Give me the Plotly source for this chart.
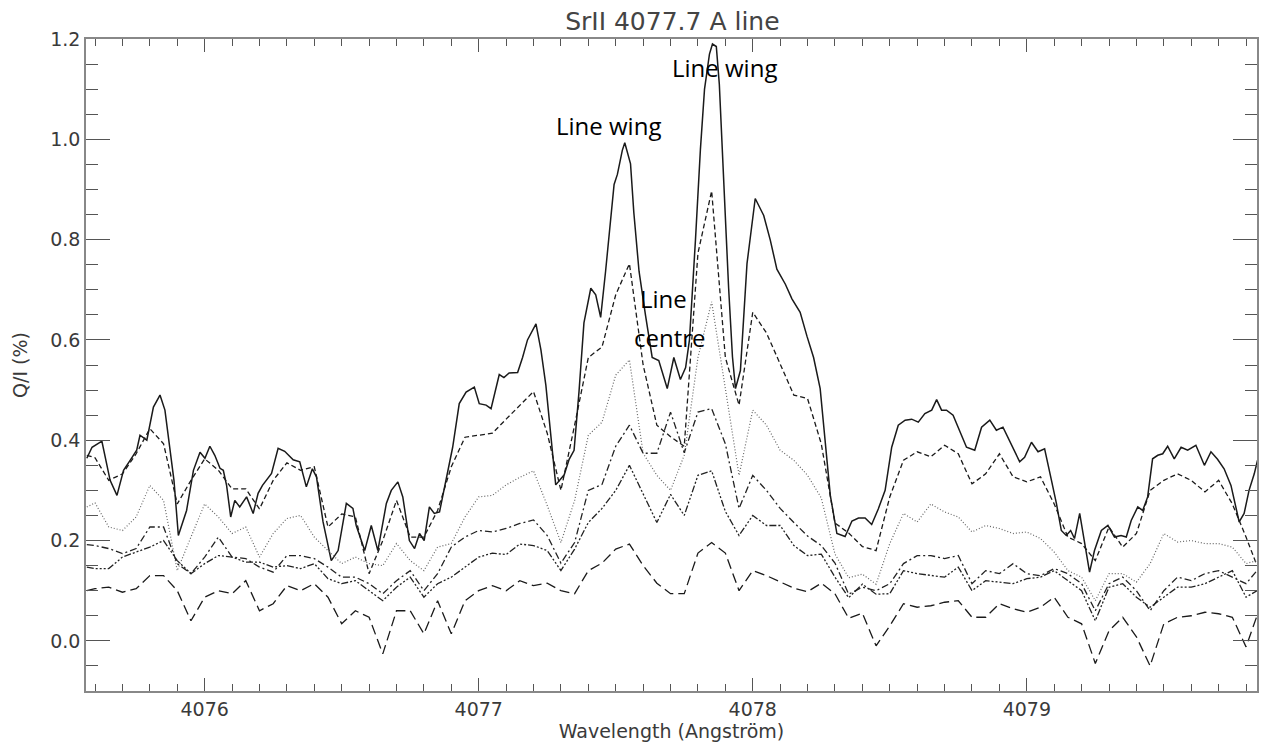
import plotly.graph_objects as go

# ---------------- data ----------------
x_solid = [4075.570, 4075.589, 4075.625, 4075.655, 4075.680, 4075.704, 4075.728, 4075.752, 4075.764, 4075.789,
           4075.813, 4075.837, 4075.855, 4075.874, 4075.888, 4075.904, 4075.934, 4075.959, 4075.983, 4076.001,
           4076.019, 4076.037, 4076.056, 4076.068, 4076.080, 4076.095, 4076.110, 4076.128, 4076.153, 4076.177,
           4076.195, 4076.211, 4076.244, 4076.268, 4076.292, 4076.323, 4076.347, 4076.371, 4076.393, 4076.408,
           4076.432, 4076.462, 4076.487, 4076.517, 4076.541, 4076.553, 4076.584, 4076.608, 4076.632, 4076.663,
           4076.681, 4076.705, 4076.723, 4076.747, 4076.766, 4076.784, 4076.801, 4076.820, 4076.838, 4076.857,
           4076.881, 4076.905, 4076.929, 4076.954, 4076.984, 4077.002, 4077.027, 4077.045, 4077.075, 4077.092,
           4077.111, 4077.142, 4077.160, 4077.178, 4077.209, 4077.227, 4077.245, 4077.263, 4077.281, 4077.312,
           4077.330, 4077.348, 4077.366, 4077.384, 4077.409, 4077.427, 4077.445, 4077.463, 4077.482, 4077.494,
           4077.506, 4077.524, 4077.533, 4077.554, 4077.566, 4077.585, 4077.609, 4077.633, 4077.657, 4077.688,
           4077.712, 4077.736, 4077.755, 4077.769, 4077.791, 4077.809, 4077.824, 4077.842, 4077.853, 4077.867,
           4077.878, 4077.890, 4077.903, 4077.912, 4077.926, 4077.937, 4077.955, 4077.979, 4078.009, 4078.040,
           4078.064, 4078.088, 4078.119, 4078.143, 4078.173, 4078.198, 4078.222, 4078.246, 4078.264, 4078.283,
           4078.307, 4078.337, 4078.362, 4078.386, 4078.410, 4078.434, 4078.458, 4078.483, 4078.507, 4078.531,
           4078.556, 4078.580, 4078.604, 4078.628, 4078.653, 4078.671, 4078.689, 4078.707, 4078.731, 4078.756,
           4078.780, 4078.810, 4078.835, 4078.865, 4078.889, 4078.913, 4078.944, 4078.974, 4078.992, 4079.017,
           4079.041, 4079.065, 4079.090, 4079.108, 4079.126, 4079.144, 4079.160, 4079.174, 4079.193, 4079.211,
           4079.229, 4079.247, 4079.272, 4079.296, 4079.320, 4079.344, 4079.363, 4079.381, 4079.405, 4079.423,
           4079.441, 4079.459, 4079.478, 4079.496, 4079.514, 4079.538, 4079.563, 4079.587, 4079.617, 4079.648,
           4079.672, 4079.696, 4079.720, 4079.745, 4079.775, 4079.793, 4079.811, 4079.830, 4079.842]
y_solid = [0.364, 0.386, 0.398, 0.320, 0.290, 0.340, 0.360, 0.380, 0.410, 0.400,
           0.466, 0.490, 0.460, 0.374, 0.320, 0.210, 0.260, 0.340, 0.376, 0.364,
           0.388, 0.370, 0.344, 0.340, 0.310, 0.247, 0.280, 0.267, 0.287, 0.254,
           0.294, 0.310, 0.334, 0.384, 0.378, 0.361, 0.357, 0.307, 0.343, 0.327,
           0.237, 0.160, 0.180, 0.274, 0.264, 0.230, 0.180, 0.230, 0.180, 0.274,
           0.300, 0.317, 0.287, 0.200, 0.184, 0.214, 0.200, 0.267, 0.254, 0.257,
           0.320, 0.386, 0.473, 0.496, 0.506, 0.473, 0.470, 0.463, 0.531, 0.525,
           0.534, 0.535, 0.565, 0.600, 0.632, 0.580, 0.510, 0.407, 0.311, 0.331,
           0.362, 0.380, 0.497, 0.634, 0.703, 0.690, 0.645, 0.737, 0.840, 0.910,
           0.930, 0.978, 0.993, 0.951, 0.854, 0.737, 0.648, 0.565, 0.559, 0.503,
           0.565, 0.521, 0.545, 0.600, 0.800, 0.980, 1.100, 1.170, 1.190, 1.185,
           1.110, 0.980, 0.810, 0.703, 0.566, 0.503, 0.539, 0.752, 0.882, 0.848,
           0.799, 0.741, 0.711, 0.682, 0.655, 0.607, 0.565, 0.503, 0.393, 0.290,
           0.214, 0.208, 0.239, 0.245, 0.245, 0.232, 0.263, 0.300, 0.386, 0.430,
           0.440, 0.442, 0.436, 0.453, 0.460, 0.481, 0.460, 0.460, 0.450, 0.416,
           0.386, 0.380, 0.426, 0.440, 0.420, 0.426, 0.390, 0.357, 0.366, 0.396,
           0.377, 0.383, 0.320, 0.274, 0.220, 0.210, 0.220, 0.204, 0.254, 0.194,
           0.137, 0.180, 0.220, 0.230, 0.207, 0.210, 0.207, 0.240, 0.267, 0.260,
           0.287, 0.363, 0.370, 0.373, 0.388, 0.363, 0.386, 0.380, 0.390, 0.350,
           0.377, 0.362, 0.343, 0.310, 0.237, 0.254, 0.300, 0.333, 0.360]

x_grid = [4075.57, 4075.60, 4075.65, 4075.70, 4075.75, 4075.80, 4075.85, 4075.90, 4075.95,
          4076.00, 4076.05, 4076.10, 4076.15, 4076.20, 4076.25, 4076.30, 4076.35, 4076.40, 4076.45,
          4076.50, 4076.55, 4076.60, 4076.65, 4076.70, 4076.75, 4076.80, 4076.85, 4076.90, 4076.95,
          4077.00, 4077.05, 4077.10, 4077.15, 4077.20, 4077.25, 4077.30, 4077.35, 4077.40, 4077.45,
          4077.50, 4077.55, 4077.60, 4077.65, 4077.70, 4077.75, 4077.80, 4077.85, 4077.90, 4077.95,
          4078.00, 4078.05, 4078.10, 4078.15, 4078.20, 4078.25, 4078.30, 4078.35, 4078.40, 4078.45,
          4078.50, 4078.55, 4078.60, 4078.65, 4078.70, 4078.75, 4078.80, 4078.85, 4078.90, 4078.95,
          4079.00, 4079.05, 4079.10, 4079.15, 4079.20, 4079.25, 4079.30, 4079.35, 4079.40, 4079.45,
          4079.50, 4079.55, 4079.60, 4079.65, 4079.70, 4079.75, 4079.80, 4079.84]

y_dash = [0.370, 0.365, 0.320, 0.333, 0.373, 0.423, 0.393, 0.273, 0.320,
          0.363, 0.340, 0.303, 0.303, 0.263, 0.320, 0.355, 0.340, 0.347, 0.227,
          0.253, 0.247, 0.134, 0.200, 0.280, 0.207, 0.207, 0.260, 0.347, 0.406,
          0.410, 0.414, 0.442, 0.469, 0.497, 0.414, 0.300, 0.430, 0.565, 0.586,
          0.690, 0.752, 0.550, 0.430, 0.407, 0.388, 0.773, 0.897, 0.565, 0.470,
          0.655, 0.614, 0.552, 0.490, 0.483, 0.393, 0.235, 0.215, 0.188, 0.180,
          0.287, 0.360, 0.377, 0.367, 0.390, 0.373, 0.313, 0.333, 0.373, 0.327,
          0.317, 0.327, 0.273, 0.207, 0.194, 0.160, 0.227, 0.187, 0.214, 0.300,
          0.320, 0.333, 0.320, 0.297, 0.320, 0.273, 0.207, 0.150]

y_dot = [0.267, 0.275, 0.227, 0.220, 0.247, 0.310, 0.280, 0.140, 0.207,
         0.273, 0.247, 0.214, 0.227, 0.167, 0.214, 0.244, 0.250, 0.207, 0.180,
         0.154, 0.167, 0.154, 0.150, 0.194, 0.160, 0.140, 0.187, 0.194, 0.247,
         0.287, 0.290, 0.311, 0.326, 0.339, 0.270, 0.196, 0.280, 0.410, 0.436,
         0.530, 0.560, 0.374, 0.330, 0.300, 0.370, 0.565, 0.676, 0.500, 0.330,
         0.460, 0.430, 0.380, 0.360, 0.330, 0.285, 0.173, 0.126, 0.133, 0.113,
         0.194, 0.254, 0.237, 0.273, 0.257, 0.247, 0.217, 0.230, 0.224, 0.214,
         0.217, 0.204, 0.177, 0.140, 0.127, 0.080, 0.134, 0.134, 0.117, 0.154,
         0.214, 0.197, 0.200, 0.194, 0.194, 0.187, 0.154, 0.160]

y_dashdot = [0.192, 0.190, 0.184, 0.174, 0.184, 0.227, 0.227, 0.154, 0.134,
             0.167, 0.207, 0.167, 0.164, 0.147, 0.137, 0.170, 0.170, 0.164, 0.147,
             0.127, 0.127, 0.114, 0.094, 0.120, 0.140, 0.100, 0.134, 0.187, 0.207,
             0.220, 0.217, 0.224, 0.234, 0.241, 0.210, 0.155, 0.196, 0.300, 0.312,
             0.388, 0.430, 0.374, 0.374, 0.456, 0.375, 0.456, 0.463, 0.393, 0.264,
             0.330, 0.300, 0.264, 0.236, 0.209, 0.190, 0.155, 0.093, 0.107, 0.100,
             0.114, 0.154, 0.170, 0.170, 0.164, 0.170, 0.114, 0.140, 0.134, 0.154,
             0.134, 0.130, 0.144, 0.134, 0.114, 0.060, 0.114, 0.127, 0.100, 0.060,
             0.100, 0.127, 0.120, 0.134, 0.140, 0.127, 0.114, 0.140]

y_dash3dot = [0.147, 0.144, 0.144, 0.167, 0.177, 0.187, 0.200, 0.160, 0.134,
              0.154, 0.170, 0.167, 0.157, 0.157, 0.147, 0.150, 0.144, 0.154, 0.124,
              0.114, 0.120, 0.100, 0.080, 0.107, 0.127, 0.087, 0.114, 0.127, 0.147,
              0.167, 0.175, 0.172, 0.193, 0.190, 0.180, 0.140, 0.183, 0.236, 0.264,
              0.300, 0.350, 0.292, 0.236, 0.292, 0.250, 0.330, 0.339, 0.258, 0.210,
              0.250, 0.230, 0.230, 0.190, 0.170, 0.173, 0.127, 0.086, 0.113, 0.093,
              0.094, 0.140, 0.134, 0.130, 0.127, 0.147, 0.100, 0.120, 0.117, 0.114,
              0.124, 0.127, 0.140, 0.120, 0.100, 0.040, 0.107, 0.114, 0.087, 0.067,
              0.087, 0.107, 0.107, 0.114, 0.127, 0.140, 0.087, 0.100]

y_longdash = [0.100, 0.104, 0.107, 0.097, 0.104, 0.130, 0.130, 0.100, 0.040,
              0.087, 0.100, 0.094, 0.120, 0.060, 0.074, 0.110, 0.100, 0.114, 0.087,
              0.034, 0.060, 0.047, -0.026, 0.060, 0.060, 0.014, 0.080, 0.014, 0.080,
              0.100, 0.110, 0.100, 0.120, 0.110, 0.115, 0.100, 0.094, 0.140, 0.155,
              0.183, 0.193, 0.150, 0.115, 0.094, 0.094, 0.175, 0.196, 0.175, 0.100,
              0.140, 0.130, 0.117, 0.105, 0.098, 0.115, 0.094, 0.045, 0.055, -0.010,
              0.030, 0.074, 0.067, 0.070, 0.077, 0.080, 0.047, 0.047, 0.074, 0.064,
              0.057, 0.067, 0.087, 0.047, 0.034, -0.045, 0.020, 0.047, 0.008, -0.050,
              0.034, 0.047, 0.050, 0.057, 0.054, 0.047, -0.012, 0.050]

x_ticks = [4076, 4077, 4078, 4079]
y_ticks = [0.0, 0.2, 0.4, 0.6, 0.8, 1.0, 1.2]

# ---------------- figure ----------------
fig = go.Figure()

series = [
    (x_solid, y_solid, "solid", "#1a1a1a", 1.5),
    (x_grid, y_dash, "5px,3px", "#1a1a1a", 1.3),
    (x_grid, y_dot, "1px,2px", "#666666", 1.2),
    (x_grid, y_dashdot, "7px,3px,2px,3px", "#222222", 1.3),
    (x_grid, y_dash3dot, "7px,2px,2px,2px,2px,2px,2px,2px", "#222222", 1.3),
    (x_grid, y_longdash, "10px,5px", "#1a1a1a", 1.3),
]
for xs, ys, dash, col, w in series:
    fig.add_trace(go.Scatter(x=xs, y=ys, mode="lines",
                             line=dict(color=col, width=w, dash=dash),
                             showlegend=False, hoverinfo="skip"))

axis_font = dict(family="DejaVu Sans", size=19, color="#3a3a3a")
title_font = dict(family="DejaVu Sans", size=19, color="#3a3a3a")

fig.update_xaxes(range=[4075.567, 4079.840], tickvals=x_ticks,
                 ticktext=[str(v) for v in x_ticks],
                 ticks="inside", ticklen=13, tickwidth=1, tickcolor="#555555",
                 minor=dict(dtick=0.1, ticklen=7, tickcolor="#555555", ticks="inside", tick0=4076),
                 showline=True, linecolor="#888888", linewidth=1.5, mirror="allticks",
                 showgrid=False, zeroline=False, tickfont=axis_font,
                 title=dict(text="Wavelength (Angström)", font=title_font, standoff=4))
fig.update_yaxes(range=[-0.1, 1.2], tickvals=y_ticks,
                 ticktext=["%.1f" % v for v in y_ticks],
                 ticks="inside", ticklen=24, tickwidth=1, tickcolor="#555555",
                 minor=dict(dtick=0.05, ticklen=12, tickcolor="#555555", ticks="inside", tick0=0),
                 showline=True, linecolor="#888888", linewidth=1.5, mirror="allticks",
                 showgrid=False, zeroline=False, tickfont=axis_font,
                 title=dict(text="Q/I (%)", font=title_font, standoff=18))

ann_font = dict(family="Open Sans", size=24, color="#000000")
fig.add_annotation(x=4077.474, y=1.028, text="Line wing", showarrow=False, font=ann_font)
fig.add_annotation(x=4077.897, y=1.144, text="Line wing", showarrow=False, font=ann_font)
fig.add_annotation(x=4077.673, y=0.683, text="Line", showarrow=False, font=ann_font)
fig.add_annotation(x=4077.698, y=0.605, text="centre", showarrow=False, font=ann_font)

fig.update_layout(
    width=1265, height=747,
    margin=dict(l=86, r=6, t=39, b=56),
    paper_bgcolor="white", plot_bgcolor="white",
    title=dict(text="SrII 4077.7 A line", x=0.5315, xanchor="center", y=0.972, yanchor="middle",
               font=dict(family="DejaVu Sans", size=25, color="#444444")),
)

fig.write_html("out.html")
